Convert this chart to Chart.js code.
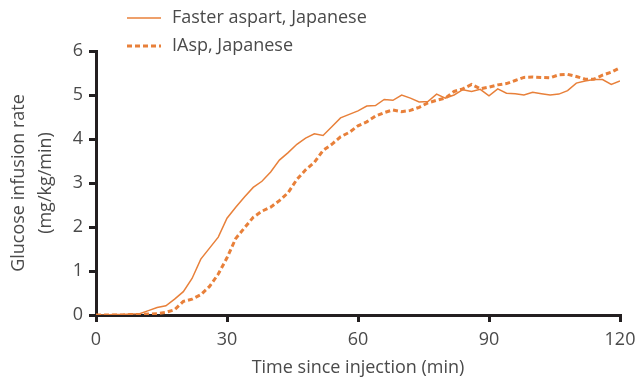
<!DOCTYPE html>
<html>
<head>
<meta charset="utf-8">
<script src="https://cdn.jsdelivr.net/npm/chart.js@4"></script>
<style>
  html, body { margin: 0; padding: 0; background: #fff; }
  #wrap { width: 637px; height: 379px; }
</style>
</head>
<body>
<div id="wrap"><canvas id="gir" width="637" height="379"></canvas></div>
<script>
// time since injection (min)
const minutes = [0, 2, 4, 6, 8, 10, 12, 14, 16, 18, 20, 22, 24, 26, 28, 30, 32, 34, 36, 38, 40,
  42, 44, 46, 48, 50, 52, 54, 56, 58, 60, 62, 64, 66, 68, 70, 72, 74, 76, 78, 80,
  82, 84, 86, 88, 90, 92, 94, 96, 98, 100, 102, 104, 106, 108, 110, 112, 114, 116, 118, 120];

const fasterAspart = [0, 0, 0.01, 0.01, 0.02, 0.03, 0.1, 0.17, 0.21, 0.36, 0.53, 0.83, 1.27, 1.52, 1.77, 2.2, 2.45, 2.68, 2.9, 3.04, 3.25,
  3.52, 3.69, 3.88, 4.02, 4.12, 4.08, 4.28, 4.48, 4.56, 4.64, 4.75, 4.76, 4.9, 4.88, 5.0, 4.93, 4.84, 4.85, 5.02, 4.93,
  5.0, 5.12, 5.08, 5.13, 4.98, 5.14, 5.04, 5.03, 5.0, 5.06, 5.03, 5.0, 5.02, 5.1, 5.27, 5.32, 5.35, 5.35, 5.24, 5.32];

const iasp = [0, 0, 0, 0, 0.01, 0.01, 0.02, 0.03, 0.06, 0.12, 0.31, 0.36, 0.46, 0.65, 0.93, 1.3, 1.74, 1.98, 2.22, 2.36, 2.45,
  2.6, 2.78, 3.08, 3.3, 3.47, 3.74, 3.88, 4.05, 4.15, 4.3, 4.39, 4.52, 4.6, 4.66, 4.62, 4.65, 4.72, 4.82, 4.88, 4.93,
  5.08, 5.14, 5.24, 5.14, 5.18, 5.23, 5.26, 5.33, 5.4, 5.41, 5.4, 5.39, 5.46, 5.47, 5.42, 5.36, 5.36, 5.45, 5.52, 5.62];

const seriesNames = ['Faster aspart, Japanese', 'IAsp, Japanese'];
const xTicks = [0, 30, 60, 90, 120];
const yTicks = [0, 1, 2, 3, 4, 5, 6];

const orange = '#e8803a';
const axisColor = '#231f20';
const textColor = '#4a4a4a';
const fontFamily = "'Open Sans', 'Noto Sans', sans-serif";

function toPoints(vals) {
  return vals.map((v, i) => ({ x: minutes[i], y: v }));
}

// legend drawn by hand, sits above the plot at the left
const legendPlugin = {
  id: 'topLegend',
  afterDraw(chart) {
    const ctx = chart.ctx;
    ctx.save();
    chart.data.datasets.forEach((ds, i) => {
      const y = 18 + i * 28;
      ctx.beginPath();
      ctx.strokeStyle = ds.borderColor;
      ctx.lineWidth = ds.borderWidth;
      ctx.setLineDash(ds.borderDash || []);
      ctx.moveTo(127, y);
      ctx.lineTo(161, y);
      ctx.stroke();
      ctx.setLineDash([]);
      ctx.fillStyle = textColor;
      ctx.font = '18px ' + fontFamily;
      ctx.textBaseline = 'middle';
      ctx.fillText(ds.label, 172, y);
    });
    ctx.restore();
  }
};

const ctx = document.getElementById('gir').getContext('2d');
const chart = new Chart(ctx, {
  type: 'line',
  data: {
    datasets: [
      {
        label: seriesNames[0],
        data: toPoints(fasterAspart),
        borderColor: orange,
        borderWidth: 1.5,
        pointRadius: 0,
        tension: 0
      },
      {
        label: seriesNames[1],
        data: toPoints(iasp),
        borderColor: orange,
        borderWidth: 3,
        borderDash: [5, 3],
        pointRadius: 0,
        tension: 0
      }
    ]
  },
  options: {
    responsive: false,
    animation: false,
    layout: { padding: { top: 51, right: 17, left: 0, bottom: 0 } },
    plugins: {
      legend: { display: false },
      tooltip: { enabled: false }
    },
    scales: {
      x: {
        type: 'linear',
        min: 0,
        max: 120,
        afterBuildTicks: (s) => { s.ticks = xTicks.map(v => ({ value: v })); },
        afterFit: (s) => { s.height = 64; s.paddingLeft = 0; s.paddingRight = 0; },
        grid: { drawOnChartArea: false, drawTicks: true, tickLength: 7, color: axisColor, lineWidth: 3 },
        border: { color: axisColor, width: 3 },
        ticks: { color: textColor, font: { family: fontFamily, size: 18 }, padding: 7, maxRotation: 0 },
        title: {
          display: true,
          text: 'Time since injection (min)',
          color: textColor,
          font: { family: fontFamily, size: 18 },
          padding: { top: 0, bottom: 0 }
        }
      },
      y: {
        min: 0,
        max: 6,
        afterBuildTicks: (s) => { s.ticks = yTicks.map(v => ({ value: v })); },
        afterFit: (s) => { s.width = 96; s.paddingTop = 0; s.paddingBottom = 0; },
        grid: { drawOnChartArea: false, drawTicks: true, tickLength: 7, color: axisColor, lineWidth: 3 },
        border: { color: axisColor, width: 3 },
        ticks: { color: textColor, font: { family: fontFamily, size: 18 }, padding: 6 },
        title: {
          display: true,
          text: ['Glucose infusion rate', '(mg/kg/min)'],
          color: textColor,
          font: { family: fontFamily, size: 18, lineHeight: 1.5 },
          padding: { top: 5, bottom: 6 }
        }
      }
    }
  },
  plugins: [legendPlugin]
});
</script>
</body>
</html>
